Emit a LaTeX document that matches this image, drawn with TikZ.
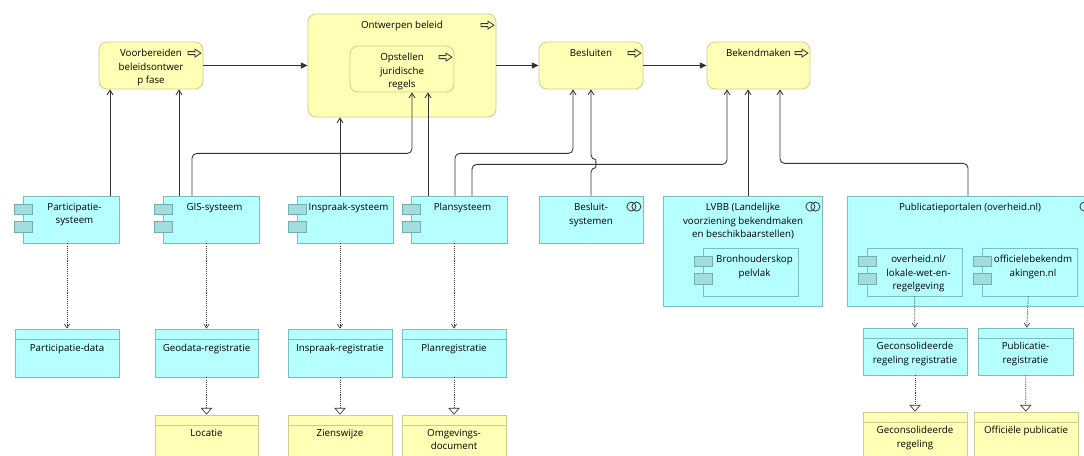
\documentclass[tikz,border=0pt]{standalone}
\usepackage{fontspec}
\setmainfont{Open Sans}
\usetikzlibrary{arrows.meta,calc}

\definecolor{procfill}{HTML}{FFFFB5}
\definecolor{procline}{HTML}{CDCD8C}
\definecolor{appfill}{HTML}{B5FFFF}
\definecolor{appline}{HTML}{7DBDBD}
\definecolor{tabfill}{HTML}{A3DCDC}
\definecolor{tabline}{HTML}{6FAFAF}
\definecolor{wire}{HTML}{333333}

\tikzset{
  proc/.style={draw=procline, fill=procfill, rounded corners=6pt, line width=0.6pt, inner sep=0pt},
  bobj/.style={draw=procline, fill=procfill, line width=0.6pt, inner sep=0pt},
  app/.style={draw=appline, fill=appfill, line width=0.6pt, inner sep=0pt},
  tab/.style={draw=tabline, fill=tabfill, line width=0.5pt},
  icon/.style={draw=black!80, line width=0.6pt},
  lbl/.style={font=\fontsize{7.3}{10.1}\selectfont, align=center, anchor=north, inner sep=0pt, text=black},
  serve/.style={draw=wire, line width=0.65pt, rounded corners=3.5pt, -{Straight Barb[length=3.5pt,width=4.5pt]}},
  trig/.style={draw=wire, line width=0.65pt, -{Triangle[length=5pt,width=4.5pt]}},
  access/.style={draw=wire, line width=0.5pt, dash pattern=on 0.8pt off 0.8pt, -{Straight Barb[length=3pt,width=4pt]}},
  realize/.style={draw=wire, line width=0.5pt, dash pattern=on 0.8pt off 0.8pt, -{Triangle[open,length=5pt,width=8.5pt]}},
}

% box given by its corners (x1,y1)-(x2,y2) in pixel-like units
\newcommand\mkbox[6]{\node[#2, minimum width={(#5-#3)*0.75pt}, minimum height={(#6-#4)*0.75pt}] (#1) at ({(#3+#5)/2},{(#4+#6)/2}) {};}
% the two small tabs of an application component
\newcommand\comptabs[1]{%
  \draw[tab] ($(#1.north west)+(-8.5,8.5)$) rectangle ++(18.5,10.5);
  \draw[tab] ($(#1.north west)+(-8.5,26)$) rectangle ++(18.5,10.5);}
% process arrow in the upper right corner
\newcommand\procicon[1]{%
  \draw[icon, shift={($(#1.north east)+(-9,11.5)$)}] (-6.5,-1.5) -- (0.5,-1.5) -- (0.5,-4) -- (6.5,0) -- (0.5,4) -- (0.5,1.5) -- (-6.5,1.5) -- cycle;}
% collaboration symbol (two rings)
\newcommand\collabicon[1]{%
  \draw[icon] ($(#1.north east)+(-12,11)$) circle[radius=4.5] ++(5,0) circle[radius=4.5];}
% header line of a data / business object
\newcommand\objhead[2]{%
  \draw[#2] ($(#1.north west)+(0,10.5)$) -- ($(#1.north east)+(0,10.5)$);}

\begin{document}
\begin{tikzpicture}[x=0.75pt,y=-0.75pt]
\useasboundingbox (0,0) rectangle (1084,455);
\fill[white] (0,0) rectangle (1084,455);
\clip (0,0) rectangle (1084,455);

% ---------- processes ----------
\mkbox{vb}{proc}{99}{42}{203}{89}
\mkbox{ob}{proc}{308}{14}{496}{117}
\mkbox{oj}{proc}{350}{46}{454}{92}
\mkbox{bs}{proc}{539}{42}{643}{89}
\mkbox{bk}{proc}{707}{42}{810}{89}
\foreach \n in {vb,ob,oj,bs,bk} {\procicon{\n}}
\node[lbl] (t-vb) at ($(vb.north)+(0,7.5)$) {Voorbereiden\\beleidsontwer\\p fase};
\node[lbl] (t-ob) at ($(ob.north)+(0,7.5)$) {Ontwerpen beleid};
\node[lbl] (t-oj) at ($(oj.north)+(0,7.5)$) {Opstellen\\juridische\\regels};
\node[lbl] (t-bs) at ($(bs.north)+(0,7.5)$) {Besluiten};
\node[lbl] (t-bk) at ($(bk.north)+(0,7.5)$) {Bekendmaken};

% ---------- application components ----------
\mkbox{psys}{app}{23}{196}{119}{243}
\mkbox{gis}{app}{163}{196}{259}{243}
\mkbox{isys}{app}{297}{196}{393}{243}
\mkbox{plan}{app}{411}{196}{507}{243}
\mkbox{bsys}{app}{539}{196}{643}{243}
\mkbox{lvbb}{app}{663}{196}{822}{306}
\mkbox{bron}{app}{703}{248}{798}{296}
\mkbox{pub}{app}{847}{196}{1096}{306}
\mkbox{owr}{app}{867}{248}{962}{296}
\mkbox{obm}{app}{982}{248}{1077}{296}
\foreach \n in {psys,gis,isys,plan,bron,owr,obm} {\comptabs{\n}}
\foreach \n in {bsys,lvbb,pub} {\collabicon{\n}}
\node[lbl] (t-psys) at ($(psys.north)+(3.5,7.5)$) {Participatie-\\systeem};
\node[lbl] (t-gis) at ($(gis.north)+(3.5,7.5)$) {GIS-systeem};
\node[lbl] (t-isys) at ($(isys.north)+(3.5,7.5)$) {Inspraak-systeem};
\node[lbl] (t-plan) at ($(plan.north)+(3.5,7.5)$) {Plansysteem};
\node[lbl] (t-bsys) at ($(bsys.north)+(0,7.5)$) {Besluit-\\systemen};
\node[lbl] (t-lvbb) at ($(lvbb.north)+(0.5,7.5)$) {LVBB (Landelijke\\voorziening bekendmaken\\en beschikbaarstellen)};
\node[lbl] (t-bron) at ($(bron.north)+(4,7.5)$) {Bronhouderskop\\pelvlak};
\node[lbl] (t-pub) at ($(pub.north)+(-1.5,7.5)$) {Publicatieportalen (overheid.nl)};
\node[lbl] (t-owr) at ($(owr.north)+(4,7.5)$) {overheid.nl/\\lokale-wet-en-\\regelgeving};
\node[lbl] (t-obm) at ($(obm.north)+(3.5,7.5)$) {officielebekendm\\akingen.nl};

% ---------- data objects ----------
\mkbox{pdat}{app}{15}{329}{119}{377}
\mkbox{geo}{app}{155}{329}{258}{377}
\mkbox{ireg}{app}{288}{329}{392}{377}
\mkbox{preg}{app}{402}{329}{506}{377}
\mkbox{greg}{app}{863}{328}{967}{375}
\mkbox{pubreg}{app}{978}{328}{1073}{375}
\foreach \n in {pdat,geo,ireg,preg,greg,pubreg} {\objhead{\n}{appline}}
\node[lbl] (t-pdat) at ($(pdat.north)+(0,15)$) {Participatie-data};
\node[lbl] (t-geo) at ($(geo.north)+(0,15)$) {Geodata-registratie};
\node[lbl] (t-ireg) at ($(ireg.north)+(0,15)$) {Inspraak-registratie};
\node[lbl] (t-preg) at ($(preg.north)+(0,15)$) {Planregistratie};
\node[lbl] (t-greg) at ($(greg.north)+(0,14.5)$) {Geconsolideerde\\regeling registratie};
\node[lbl] (t-pubreg) at ($(pubreg.north)+(0,14.5)$) {Publicatie-\\registratie};

% ---------- business objects ----------
\mkbox{loc}{bobj}{155}{415}{258}{475}
\mkbox{zw}{bobj}{288}{415}{392}{475}
\mkbox{omg}{bobj}{402}{415}{506}{475}
\mkbox{gr}{bobj}{863}{412}{967}{470}
\mkbox{op}{bobj}{974}{412}{1078}{470}
\foreach \n in {loc,zw,omg,gr,op} {\objhead{\n}{procline}}
\node[lbl] (t-loc) at ($(loc.north)+(0,14.5)$) {Locatie};
\node[lbl] (t-zw) at ($(zw.north)+(0,14.5)$) {Zienswijze};
\node[lbl] (t-omg) at ($(omg.north)+(0,14.5)$) {Omgevings-\\document};
\node[lbl] (t-gr) at ($(gr.north)+(0,14.5)$) {Geconsolideerde\\regeling};
\node[lbl] (t-op) at ($(op.north)+(0,14.5)$) {Officiële publicatie};

% ---------- triggering between processes ----------
\draw[trig] (vb.east) -- (ob.west);
\draw[trig] (ob.east) -- (bs.west);
\draw[trig] (bs.east) -- (bk.west);

% ---------- serving ----------
\draw[serve] ($(psys.north)+(39,0)$) coordinate (s1) -- (s1 |- vb.south);
\draw[serve] ($(gis.north)+(-32,0)$) coordinate (s2) -- (s2 |- vb.south);
\draw[serve] ($(gis.north)+(-19,0)$) |- ($(oj.south)+(10,61)$) -- ($(oj.south)+(10,0)$);
\draw[serve] ($(isys.north)+(-5,0)$) coordinate (s4) -- (s4 |- ob.south);
\draw[serve] ($(plan.north)+(-31,0)$) coordinate (s5) -- (s5 |- oj.south);
\draw[serve] ($(plan.north)+(-4,0)$) |- ($(bs.south)+(-18,64)$) -- ($(bs.south)+(-18,0)$);
\draw[serve] (bsys.north) -- ($(bsys.north)+(0,-28)$)
  .. controls +(5,0) and +(5,0) .. ($(bsys.north)+(0,-36)$) -- (bs.south);
\draw[serve] ($(plan.north)+(13,0)$) |- ($(bk.south)+(-31.5,75)$) -- ($(bk.south)+(-31.5,0)$);
\draw[serve] ($(lvbb.north)+(5.5,0)$) coordinate (s9) -- (s9 |- bk.south);
\draw[serve] ($(pub.north)+(-3.5,0)$) |- ($(bk.south)+(21.5,74)$) -- ($(bk.south)+(21.5,0)$);

% ---------- access ----------
\draw[access] (pdat.north |- psys.south) -- (pdat.north);
\draw[access] (geo.north |- gis.south) -- (geo.north);
\draw[access] (ireg.north |- isys.south) -- (ireg.north);
\draw[access] (preg.north |- plan.south) -- (preg.north);
\draw[access] (owr) -- (greg);
\draw[access] (obm) -- (pubreg);

% ---------- realization ----------
\draw[realize] (geo) -- (loc);
\draw[realize] (ireg) -- (zw);
\draw[realize] (preg) -- (omg);
\draw[realize] (greg) -- (gr);
\draw[realize] (pubreg) -- (op);
\end{tikzpicture}
\end{document}
